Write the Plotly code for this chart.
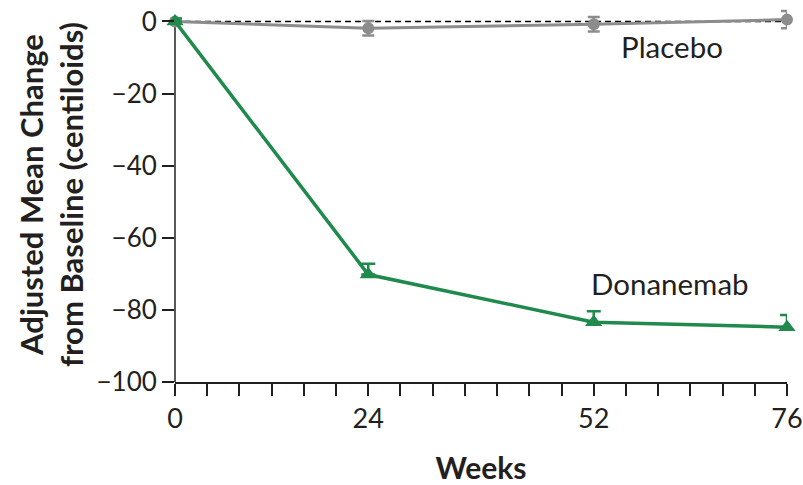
import plotly.graph_objects as go

weeks = [0, 24, 52, 76]
placebo = [0, -1.9, -0.8, 0.5]
placebo_err = [0.8, 2.0, 2.0, 2.4]
donanemab = [0, -70.2, -83.4, -84.8]
donanemab_err_up = [0.8, 3.0, 3.0, 3.4]
donanemab_err_down = [0, 0, 0, 0]
x_tick_vals = list(range(0, 77, 4))
x_tick_text = [str(v) if v in (0, 24, 52, 76) else "" for v in x_tick_vals]
y_tick_vals = [0, -20, -40, -60, -80, -100]

GREEN = "#1f8a4c"
GRAY = "#8c8c8c"
INK = "#231f20"
FONT = "Lato"

fig = go.Figure()
fig.add_trace(go.Scatter(x=[0, 76], y=[0, 0], mode="lines",
                         line=dict(color="black", width=1.5, dash="6px,4px"),
                         hoverinfo="skip", showlegend=False))
fig.add_trace(go.Scatter(x=weeks, y=placebo, mode="lines+markers",
                         line=dict(color=GRAY, width=3),
                         marker=dict(symbol="circle", size=12, color=GRAY),
                         error_y=dict(type="data", array=placebo_err, color=GRAY,
                                      thickness=2.5, width=6),
                         showlegend=False, cliponaxis=False))
fig.add_trace(go.Scatter(x=weeks, y=donanemab, mode="lines+markers",
                         line=dict(color=GREEN, width=3.5),
                         marker=dict(symbol="triangle-up", size=15, color=GREEN),
                         error_y=dict(type="data", symmetric=False,
                                      array=donanemab_err_up,
                                      arrayminus=donanemab_err_down, color=GREEN,
                                      thickness=2.5, width=7),
                         showlegend=False, cliponaxis=False))

fig.add_annotation(x=61.7, y=-7.0, text="Placebo", showarrow=False,
                   font=dict(family=FONT, size=29.5, color=INK))
fig.add_annotation(x=61.5, y=-72.6, text="Donanemab", showarrow=False,
                   font=dict(family=FONT, size=29.5, color=INK))

# y-axis spine from 0 down to -100
fig.add_shape(type="line", xref="paper", x0=0, x1=0, yref="y", y0=-100, y1=0,
              line=dict(color=INK, width=1.5), layer="below")

fig.update_layout(
    width=803, height=485,
    margin=dict(l=175, r=16, t=7, b=103),
    plot_bgcolor="white", paper_bgcolor="white",
    font=dict(family=FONT, size=26, color=INK),
    xaxis=dict(range=[0, 76], tickmode="array", tickvals=x_tick_vals,
               ticktext=x_tick_text, ticks="outside", ticklen=12, tickwidth=1.5,
               tickcolor=INK, showline=True, linecolor=INK, linewidth=1.5,
               showgrid=False, zeroline=False, tickfont=dict(size=27),
               automargin=False,
               title=dict(text="<b>Weeks</b>", font=dict(size=30), standoff=29)),
    yaxis=dict(range=[-100, 4], tickmode="array", tickvals=y_tick_vals,
               ticks="outside", ticklen=12, tickwidth=1.5, tickcolor=INK,
               showline=False, showgrid=False, zeroline=False,
               tickfont=dict(size=26), automargin=False,
               title=dict(text="<b>Adjusted Mean Change<br>from Baseline (centiloids)</b>",
                          font=dict(size=31), standoff=3)),
)

fig.write_html("out.html")
